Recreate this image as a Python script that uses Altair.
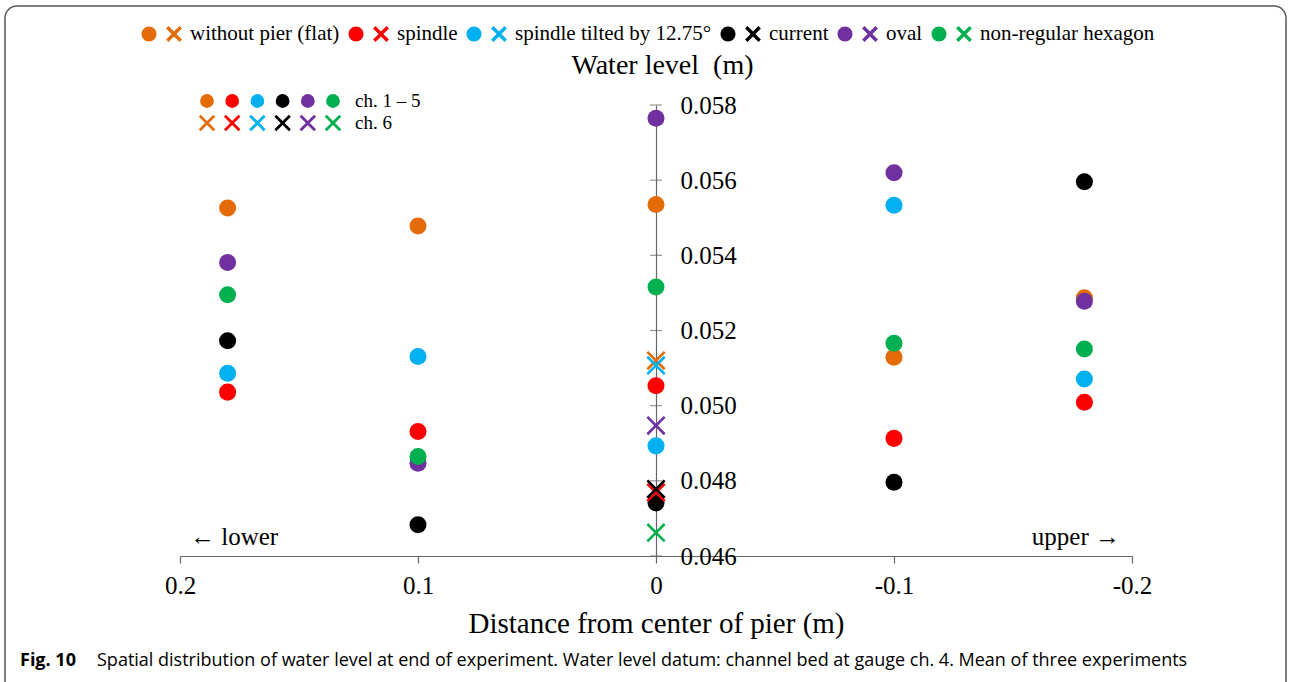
import altair as alt
import pandas as pd

# ---------------- data ----------------
series = ["without pier (flat)", "spindle", "spindle tilted by 12.75°",
          "current", "oval", "non-regular hexagon"]
colors = ["#E36C09", "#FF0000", "#00B0F0", "#000000", "#7030A0", "#00B050"]

distance = [0.18, 0.1, 0.0, -0.1, -0.18]          # gauges ch. 1 - 5
level_flat = [0.05526, 0.05478, 0.05535, 0.05129, 0.05287]
level_spindle = [0.05036, 0.04931, 0.05053, 0.04913, 0.05009]
level_tilted = [0.05086, 0.05131, 0.04893, 0.05533, 0.05071]
level_current = [0.05173, 0.04683, 0.04741, 0.04796, 0.05596]
level_oval = [0.05381, 0.04847, 0.05765, 0.05620, 0.05278]
level_hexagon = [0.05295, 0.04865, 0.05316, 0.05166, 0.05151]

ch6_distance = 0.0                                # gauge ch. 6
ch6_level = [0.05120, 0.04769, 0.05107, 0.04778, 0.04947, 0.04662]

x_ticks = [0.2, 0.1, 0.0, -0.1, -0.2]
y_ticks = [0.046, 0.048, 0.050, 0.052, 0.054, 0.056, 0.058]

inset_labels = ["ch. 1 – 5", "ch. 6"]
caption_bold = "Fig. 10"
caption_text = ("Spatial distribution of water level at end of experiment. "
                "Water level datum: channel bed at gauge ch. 4. Mean of three experiments")

# ---------------- tables ----------------
levels = [level_flat, level_spindle, level_tilted, level_current, level_oval, level_hexagon]
rows = []
for s, vals in zip(series, levels):
    for d, v in zip(distance, vals):
        rows.append({"series": s, "distance": d, "level": v})
df_main = pd.DataFrame(rows)
df_ch6 = pd.DataFrame({"series": series, "distance": [ch6_distance] * len(series), "level": ch6_level})
df_ticks = pd.DataFrame({"distance": [0.0] * len(y_ticks), "level": y_ticks})
df_inset = pd.DataFrame([{"series": s, "kind": k} for k in ["c", "x"] for s in series])
df_inset_text = pd.DataFrame({"kind": ["c", "x"], "label": inset_labels})
one = pd.DataFrame({"a": [0]})

SERIF = "Liberation Serif"
AX = "#666666"
W, H = 952, 451

# ---------------- symbols ----------------
CROSS = "M-1,-1L1,1M1,-1L-1,1"


def x_poly(cx, cy, a, d):
    pts = [(-a, -a + d), (-a + d, -a), (0, -d), (a - d, -a), (a, -a + d), (d, 0),
           (a, a - d), (a - d, a), (0, d), (-a + d, a), (-a, a - d), (-d, 0)]
    return "M" + "L".join(f"{cx + px:.3f},{cy + py:.3f}" for px, py in pts) + "Z"


def circ(cx, cy, r):
    return (f"M{cx - r:.3f},{cy:.3f}A{r:.3f},{r:.3f} 0 1 0 {cx + r:.3f},{cy:.3f}"
            f"A{r:.3f},{r:.3f} 0 1 0 {cx - r:.3f},{cy:.3f}Z")


LEGEND_SYMBOL = circ(-0.59, 0, 0.34) + x_poly(0.545, 0, 0.36, 0.11)

xscale = alt.Scale(domain=[-0.2, 0.2], reverse=True, nice=False, zero=False)
yscale = alt.Scale(domain=[0.046, 0.058], nice=False, zero=False)
cscale = alt.Scale(domain=series, range=colors)

x_axis = alt.Axis(values=x_ticks, labelExpr="'' + datum.value", tickSize=7, tickColor=AX,
                  tickWidth=1.2, domainColor=AX, domainWidth=1.2, grid=False,
                  labelFont=SERIF, labelFontSize=25, labelColor="black", labelPadding=10,
                  labelFlush=False, labelOverlap=False,
                  title="Distance from center of pier (m)", titleFont=SERIF, titleFontSize=29,
                  titleFontWeight="normal", titleColor="black", titlePadding=11)
y_axis = alt.Axis(orient="right", offset=-W / 2, values=y_ticks, format=".3f", ticks=False,
                  tickSize=0, domainColor=AX, domainWidth=1.2, grid=False,
                  labelFont=SERIF, labelFontSize=25, labelColor="black", labelPadding=24,
                  labelFlush=False, labelOverlap=False, labelAlign="left", labelBaseline="middle",
                  title="Water level\u00a0\u00a0(m)", titleFont=SERIF, titleFontSize=28,
                  titleFontWeight="normal", titleColor="black", titleAngle=0,
                  titleX=6, titleY=-40, titleAlign="center", titleBaseline="middle")

legend = alt.Legend(title=None, orient="none", legendX=-40, legendY=-93, direction="horizontal",
                    symbolType=LEGEND_SYMBOL, symbolSize=1936, symbolStrokeWidth=0,
                    labelFont=SERIF, labelFontSize=21, labelColor="black", labelLimit=400,
                    labelOffset=6, columnPadding=7, padding=0)

ticks = alt.Chart(df_ticks).mark_tick(orient="horizontal", size=12, thickness=1.2, color=AX).encode(
    x=alt.X("distance:Q", scale=xscale, axis=x_axis),
    y=alt.Y("level:Q", scale=yscale, axis=y_axis),
)

circles = alt.Chart(df_main).mark_point(filled=True, shape="circle", size=290, opacity=1).encode(
    x=alt.X("distance:Q", scale=xscale),
    y=alt.Y("level:Q", scale=yscale),
    color=alt.Color("series:N", scale=cscale, legend=legend, sort=series),
    order=alt.Order("ord:Q"),
).transform_calculate(ord="indexof(" + str(series) + ", datum.series)")

crosses = alt.Chart(df_ch6).mark_point(filled=False, shape=CROSS, size=300, strokeWidth=2.6,
                                        opacity=1).encode(
    x=alt.X("distance:Q", scale=xscale),
    y=alt.Y("level:Q", scale=yscale),
    color=alt.Color("series:N", scale=cscale, legend=None),
)

main = alt.layer(ticks, circles, crosses)

# inset key (ch. 1-5 / ch. 6)
ix = alt.Scale(type="point", domain=series, range=[27, 153], padding=0)
iy = alt.Scale(type="point", domain=["c", "x"], range=[-4, 18], padding=0)
inset_c = alt.Chart(df_inset).transform_filter("datum.kind == 'c'").mark_point(
    filled=True, shape="circle", size=190, opacity=1).encode(
    x=alt.X("series:N", scale=ix, axis=None),
    y=alt.Y("kind:N", scale=iy, axis=None),
    color=alt.Color("series:N", scale=cscale, legend=None),
)
inset_x = alt.Chart(df_inset).transform_filter("datum.kind == 'x'").mark_point(
    filled=False, shape=CROSS, size=210, strokeWidth=2.8, opacity=1).encode(
    x=alt.X("series:N", scale=ix, axis=None),
    y=alt.Y("kind:N", scale=iy, axis=None),
    color=alt.Color("series:N", scale=cscale, legend=None),
)
inset_t = alt.Chart(df_inset_text).mark_text(font=SERIF, fontSize=19, align="left",
                                             baseline="middle", color="black").encode(
    x=alt.value(175),
    y=alt.Y("kind:N", scale=iy, axis=None),
    text="label:N",
)
inset = alt.layer(inset_c, inset_x, inset_t)

# annotations
lower = alt.Chart(one).mark_text(text="← lower", font=SERIF, fontSize=25, align="left",
                                 baseline="middle", color="black").encode(
    x=alt.value(10), y=alt.value(432))
upper = alt.Chart(one).mark_text(text="upper →", font=SERIF, fontSize=25, align="right",
                                 baseline="middle", color="black").encode(
    x=alt.value(940), y=alt.value(432))
cap1 = alt.Chart(one).mark_text(text=caption_bold, font="Open Sans", fontSize=18, fontWeight="bold",
                                align="left", baseline="middle", color="black").encode(
    x=alt.value(-160), y=alt.value(556))
cap2 = alt.Chart(one).mark_text(text=caption_text, font="Open Sans", fontSize=18,
                                align="left", baseline="middle", color="black").encode(
    x=alt.value(-83), y=alt.value(556))
border = alt.Chart(one).mark_rect(fillOpacity=0, stroke="#555555", strokeWidth=1.5,
                                  cornerRadius=12).encode(
    x=alt.value(-175), x2=alt.value(1106), y=alt.value(-99), y2=alt.value(590))

chart = alt.layer(main, inset, lower, upper, cap1, cap2, border).resolve_scale(
    x="independent", y="independent", color="shared"
).properties(
    width=W, height=H,
    autosize=alt.AutoSizeParams(type="none"),
    padding={"left": 180, "top": 105, "right": 158, "bottom": 126},
    background="white",
).configure_view(strokeWidth=0)

chart.save("out.html", embed_options={"renderer": "svg", "actions": False})
